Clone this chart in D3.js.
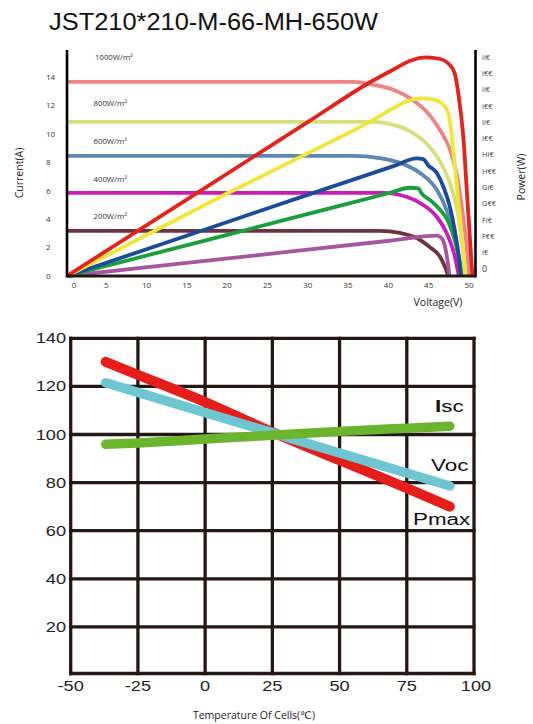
<!DOCTYPE html>
<html><head><meta charset="utf-8">
<script src="https://cdn.jsdelivr.net/npm/d3@7"></script>
<style>body{margin:0;background:#fff}svg{display:block}</style>
</head><body>
<svg id="c" width="533" height="724"></svg>
<script>
// ---------- DATA ----------
const title = "JST210*210-M-66-MH-650W";
const irradianceLabels = ["1000W/m²","800W/m²","600W/m²","400W/m²","200W/m²"];
const irradianceLabelCurrent = [15.4, 12.15, 9.5, 6.8, 4.2];

// I-V curves [voltage V, current A]
const iv1000 = [[0,13.66],[35.5,13.66],[38,13.45],[40.5,13.1],[42.6,12.5],[44.7,11.5],[46.3,10.25],[47.5,8.9],[48.5,6.76],[49.1,4.4],[49.6,2.04],[49.9,0]];
const iv800  = [[0,10.85],[38,10.85],[40.5,10.63],[42.9,10.07],[45,9.08],[46.65,7.67],[47.9,5.84],[48.76,3.45],[49.1,1.62],[49.4,0]];
const iv600  = [[0,8.45],[35.5,8.45],[38.8,8.3],[41.3,7.96],[43.8,7.25],[45.9,6.05],[47.1,4.64],[47.9,3.24],[48.5,1.62],[48.9,0]];
const iv400  = [[0,5.85],[39.2,5.85],[42.2,5.56],[44.2,5.0],[45.9,4.15],[47.1,3.03],[47.9,1.83],[48.4,0.63],[48.6,0]];
const iv200  = [[0,3.17],[38.8,3.17],[41.3,3.03],[43.4,2.67],[45,2.04],[46.3,1.34],[46.9,0.63],[47.3,0]];

// P-V curves [voltage V, power W]
const pv1000 = [[0,0],[16.5,252],[30,459],[37.6,575],[40.5,613],[42.6,639],[44.6,649],[46.3,644],[47.5,626],[48.1,602],[48.55,542],[49.2,404],[49.6,255],[50,107],[50.3,0]];
const pv800  = [[0,0],[19.8,244],[30,366],[37.6,458],[40.5,498],[42.1,517],[43.8,527],[45.4,524],[46.7,508],[47.3,483],[47.7,424],[48.2,305],[48.7,186],[49.1,87],[49.4,0]];
const pv600  = [[0,0],[20,161],[30.5,246],[40.5,326],[43.4,349],[44.2,347],[44.8,329],[45.9,305],[46.7,265],[47.5,206],[48.1,137],[48.55,67],[48.85,0]];
const pv400  = [[0,0],[20,123],[35,215.5],[40,246.3],[42.55,262],[43.6,260],[44.0,245],[45.0,226],[46.3,196],[47.3,161],[48.1,107],[48.7,47],[49.0,0]];
const pv200  = [[0,0],[20,52.3],[40,104.6],[45.9,120],[46.5,112],[46.9,87],[47.2,47],[47.45,0]];

const currentTicks = [0,2,4,6,8,10,12,14];
const voltageTicks = [0,5,10,15,20,25,30,35,40,45,50];
const powerTickValues = [0,50,100,150,200,250,300,350,400,450,500,550,600,650];
const powerTickLabels = ["0","í€","F€€","Fí€","G€€","Gí€","H€€","Hí€","I€€","Ií€","í€€","íí€","ì€€","ìí€"];

// Temperature chart
const tempTicks = [-50,-25,0,25,50,75,100];
const percentTicks = [20,40,60,80,100,120,140];
const tempPoints = [-37,-25,0,25,50,75,91];
const pmaxValues = [130.2,124.8,113.5,101,89.3,77.7,70];
const vocValues  = [121.5,117.5,109.1,100.7,92.3,84,78.6];
const iscValues  = [95.9,96.5,98.1,99.7,101.3,102.6,103.4];
const seriesNames = ["Pmax","Voc","Isc"];

// ---------- DRAW ----------
const svg = d3.select("#c");
const ink = "#231815";
const txtFont = "'Open Sans', 'DejaVu Sans', sans-serif";

svg.append("text").attr("x",49).attr("y",29.5)
  .attr("font-family","'Liberation Sans', Arial, sans-serif").attr("font-size",23)
  .attr("textLength",329).attr("lengthAdjust","spacingAndGlyphs")
  .attr("fill","#111").text(title);

// top chart scales
const xV = d3.scaleLinear().domain([0,50]).range([67,470]);
const yI = d3.scaleLinear().domain([0,14]).range([276,77]);
const yP = d3.scaleLinear().domain([0,650]).range([276,57]);
const yPLabel = d3.scaleLinear().domain([0,650]).range([269,57]);

const gTop = svg.append("g");
const ivLine = d3.line().x(d=>xV(d[0])).y(d=>yI(d[1])).curve(d3.curveMonotoneX);
const pvLine = d3.line().x(d=>xV(d[0])).y(d=>yP(d[1])).curve(d3.curveMonotoneX);

const ivSeries = [[iv1000,"#ef8582"],[iv800,"#d7e07c"],[iv600,"#5c88b6"],[iv400,"#cb1bb8"],[iv200,"#6c3440"]];
const pvSeries = [[pv200,"#a656a0"],[pv400,"#18a03d"],[pv600,"#1b4b9b"],[pv800,"#f1e63a"],[pv1000,"#e4231d"]];

ivSeries.forEach(([d,c])=>gTop.append("path").attr("d",ivLine(d)).attr("fill","none")
  .attr("stroke",c).attr("stroke-width",3.8).attr("stroke-linejoin","round"));
pvSeries.forEach(([d,c])=>gTop.append("path").attr("d",pvLine(d)).attr("fill","none")
  .attr("stroke",c).attr("stroke-width",3.8).attr("stroke-linejoin","round"));

// axes lines
gTop.append("line").attr("x1",xV(0)).attr("x2",xV(0)).attr("y1",50).attr("y2",yI(0)+1.5).attr("stroke","#000").attr("stroke-width",2.6);
gTop.append("line").attr("x1",475.5).attr("x2",475.5).attr("y1",50).attr("y2",yI(0)+1.5).attr("stroke","#000").attr("stroke-width",2.6);
gTop.append("line").attr("x1",xV(0)).attr("x2",475.5).attr("y1",yI(0)).attr("y2",yI(0)).attr("stroke",ink).attr("stroke-width",3);

// left tick labels
gTop.selectAll("text.ct").data(currentTicks).join("text").attr("class","ct")
  .attr("x",46).attr("y",d=>yI(d)).attr("dy","0.35em")
  .attr("font-family",txtFont).attr("font-size",8).attr("fill","#333").text(d=>d);
// x tick labels
gTop.selectAll("text.vt").data(voltageTicks).join("text").attr("class","vt")
  .attr("x",(d,i)=>xV(d)+(i===0?7:-1)).attr("y",288).attr("text-anchor","middle")
  .attr("font-family",txtFont).attr("font-size",8).attr("fill","#333").text(d=>d);
// right tick labels
gTop.selectAll("text.pt").data(powerTickValues).join("text").attr("class","pt")
  .attr("x",482).attr("y",d=>yPLabel(d)).attr("dy","0.35em")
  .attr("font-family",txtFont).attr("font-size",(d,i)=>i===0?9:7.5).attr("fill","#444")
  .text((d,i)=>powerTickLabels[i]);
// irradiance labels
gTop.selectAll("text.irr").data(irradianceLabels).join("text").attr("class","irr")
  .attr("x",(d,i)=>i===0?95:93.5).attr("y",(d,i)=>yI(irradianceLabelCurrent[i])).attr("dy","0.35em")
  .attr("font-family",txtFont).attr("font-size",7.8).attr("fill","#333").text(d=>d);
// axis titles
gTop.append("text").attr("transform","translate(23,173) rotate(-90)").attr("text-anchor","middle")
  .attr("font-family",txtFont).attr("font-size",10.5).attr("fill","#222").text("Current(A)");
gTop.append("text").attr("transform","translate(525,177) rotate(-90)").attr("text-anchor","middle")
  .attr("font-family",txtFont).attr("font-size",10.5).attr("fill","#222").text("Power(W)");
gTop.append("text").attr("x",438).attr("y",306).attr("text-anchor","middle")
  .attr("font-family",txtFont).attr("font-size",10.5).attr("fill","#222").text("Voltage(V)");

// ---------- bottom chart ----------
const xT = d3.scaleLinear().domain([-50,100]).range([70.7,474]);
const yC = d3.scaleLinear().domain([0,140]).range([675,338.3]);
const bot = svg.append("g");
const wideFont = "'Liberation Sans', Arial, sans-serif";

const lineT = vals => d3.line().x((d,i)=>xT(tempPoints[i])).y(d=>yC(d)).curve(d3.curveMonotoneX)(vals);
// grid
bot.selectAll("line.h").data([0].concat(percentTicks)).join("line").attr("class","h")
  .attr("x1",xT(-50)).attr("x2",xT(100)).attr("y1",d=>yC(d)-(d===0?1.5:0)).attr("y2",d=>yC(d)-(d===0?1.5:0))
  .attr("stroke",ink).attr("stroke-width",3.3).attr("stroke-linecap","square");
bot.selectAll("line.v").data(tempTicks).join("line").attr("class","v")
  .attr("x1",d=>xT(d)).attr("x2",d=>xT(d)).attr("y1",yC(140)).attr("y2",yC(0)-1.5)
  .attr("stroke",ink).attr("stroke-width",3.3).attr("stroke-linecap","square");

// series
[[pmaxValues,"#e61e19",10],[vocValues,"#6fc6d3",9.5],[iscValues,"#6bb52e",9.5]].forEach(([v,c,w])=>
  bot.append("path").attr("d",lineT(v)).attr("fill","none").attr("stroke",c)
    .attr("stroke-width",w).attr("stroke-linecap","round").attr("stroke-linejoin","round"));

// tick labels (wide font)
bot.selectAll("text.yt").data(percentTicks).join("text").attr("class","yt")
  .attr("transform",d=>`translate(66,${yC(d)}) scale(1.3,1)`).attr("dy","0.36em").attr("text-anchor","end")
  .attr("font-family",wideFont).attr("font-size",14).attr("fill","#222").text(d=>d);
bot.selectAll("text.xt").data(tempTicks).join("text").attr("class","xt")
  .attr("transform",d=>`translate(${xT(d)+(d===100?2:0)},691) scale(1.3,1)`).attr("text-anchor","middle")
  .attr("font-family",wideFont).attr("font-size",14).attr("fill","#222").text(d=>d);

// series labels
const labelPos = {Isc:[435,412],Voc:[431,471],Pmax:[413,525]};
seriesNames.forEach(n=>{
  const t = bot.append("text").attr("transform",`translate(${labelPos[n][0]},${labelPos[n][1]}) scale(1.4,1)`)
    .attr("font-family",wideFont).attr("font-size",16).attr("fill","#111");
  if(n==="Isc"){ t.append("tspan").attr("font-weight","bold").text("I"); t.append("tspan").text("sc"); }
  else t.text(n);
});

bot.append("text").attr("x",254).attr("y",719).attr("text-anchor","middle")
  .attr("font-family",txtFont).attr("font-size",10.5).attr("fill","#222").text("Temperature Of Cells(℃)");
</script>
</body></html>
